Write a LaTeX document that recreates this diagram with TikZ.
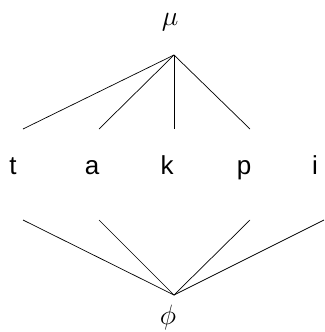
\documentclass[tikz,border=0pt]{standalone}
\usepackage{fix-cm}
\usepackage{fontspec}
\setmainfont{Liberation Sans}
\begin{document}
\begin{tikzpicture}[
  x=1pt, y=-1pt,
  seglbl/.style={font={\fontsize{26}{30}\selectfont}, inner sep=0pt, anchor=base},
  featlbl/.style={font={\fontsize{28}{32}\selectfont}, inner sep=0pt},
  assoc/.style={draw=black, line width=0.7pt}
]
\useasboundingbox (0,0) rectangle (324,332);
\node[featlbl] (mu) at (170,22) {$\mu$};
\node[featlbl] (phi) at (168,317) {$\phi$};
\node[seglbl] (t) at (13,174) {t};
\node[seglbl] (a) at (92,174) {a};
\node[seglbl] (k) at (167,174) {k};
\node[seglbl] (p) at (244,174) {p};
\node[seglbl] (i) at (315,174) {i};
\coordinate (top) at (174,55);
\coordinate (bot) at (174,295);
\coordinate (tu) at (23,129);
\coordinate (au) at (99,129);
\coordinate (ku) at (174,129);
\coordinate (pu) at (250,129);
\coordinate (td) at (23,220);
\coordinate (ad) at (99,220);
\coordinate (pd) at (250,220);
\coordinate (id) at (324,220);
\draw[assoc] (top) -- (tu);
\draw[assoc] (top) -- (au);
\draw[assoc] (top) -- (ku);
\draw[assoc] (top) -- (pu);
\draw[assoc] (bot) -- (td);
\draw[assoc] (bot) -- (ad);
\draw[assoc] (bot) -- (pd);
\draw[assoc] (bot) -- (id);
\end{tikzpicture}
\end{document}
